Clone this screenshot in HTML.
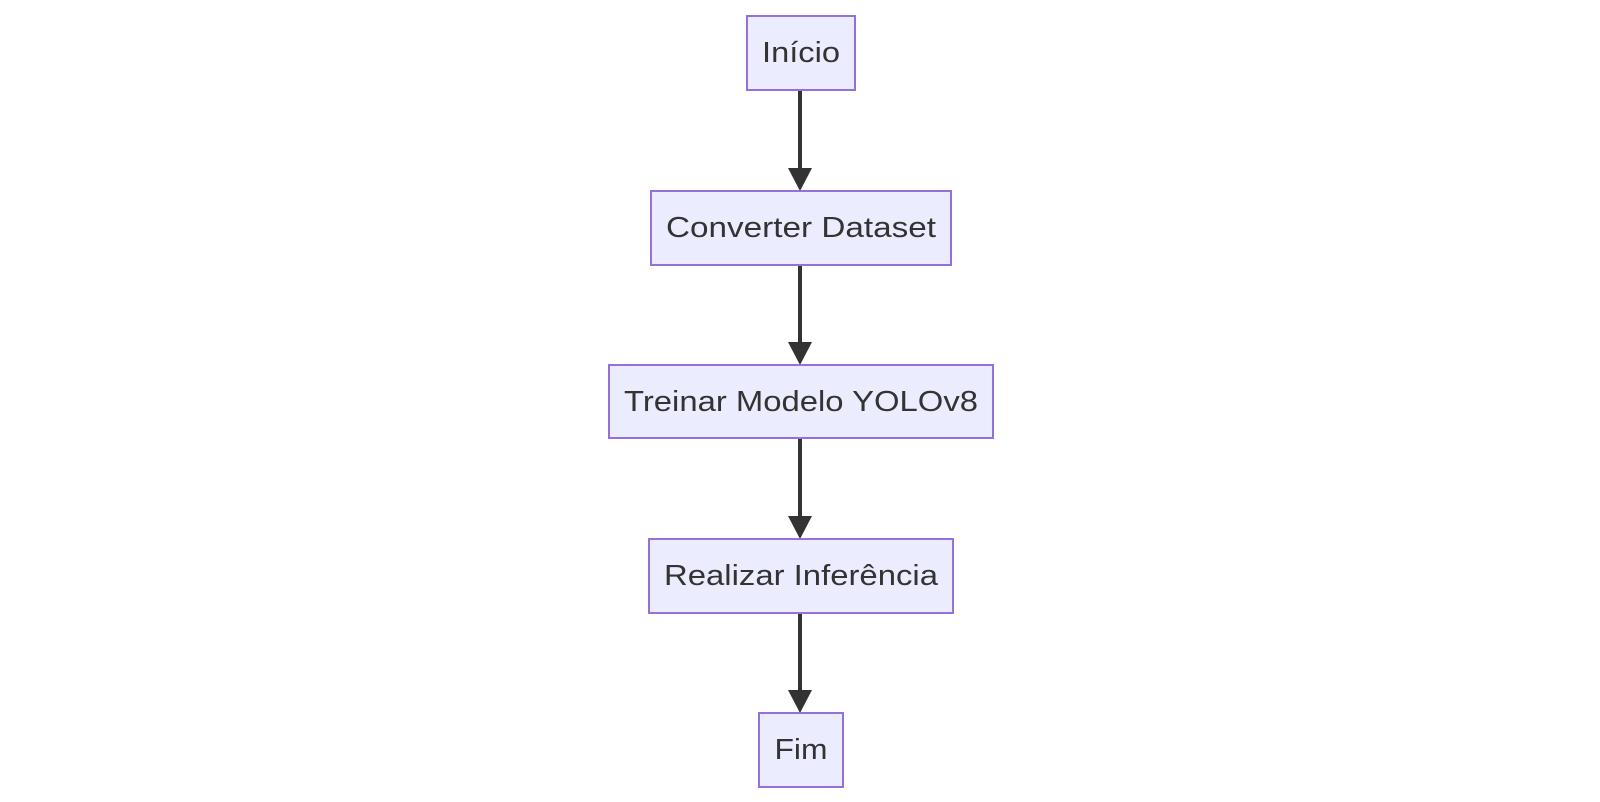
<!DOCTYPE html>
<html><head><meta charset="utf-8"><style>
html,body{margin:0;padding:0;background:#fff;width:1600px;height:802px;overflow:hidden}
text{font-family:"Liberation Sans",sans-serif;font-size:29px;fill:#333;text-anchor:middle;dominant-baseline:central}
rect{fill:#ECECFF;stroke:#9370DB;stroke-width:2}
line{stroke:#333;stroke-width:4}
polygon{fill:#333}
</style></head><body>
<svg width="1600" height="802" viewBox="0 0 1600 802">
<line x1="800" y1="90" x2="800" y2="170"/><polygon points="788,168 812,168 800,191"/>
<line x1="800" y1="265" x2="800" y2="344"/><polygon points="788,342 812,342 800,365"/>
<line x1="800" y1="438" x2="800" y2="518"/><polygon points="788,516 812,516 800,539"/>
<line x1="800" y1="613" x2="800" y2="692"/><polygon points="788,690 812,690 800,713"/>
<rect x="747" y="16" width="108" height="74"/><text x="801" y="53" textLength="78" lengthAdjust="spacingAndGlyphs">Início</text>
<rect x="651" y="191" width="300" height="74"/><text x="801" y="228" textLength="270" lengthAdjust="spacingAndGlyphs">Converter Dataset</text>
<rect x="609" y="365" width="384" height="73"/><text x="801" y="402" textLength="354" lengthAdjust="spacingAndGlyphs">Treinar Modelo YOLOv8</text>
<rect x="649" y="539" width="304" height="74"/><text x="801" y="576" textLength="274" lengthAdjust="spacingAndGlyphs">Realizar Inferência</text>
<rect x="759" y="713" width="84" height="74"/><text x="801" y="750" textLength="53" lengthAdjust="spacingAndGlyphs">Fim</text>
</svg>
</body></html>
